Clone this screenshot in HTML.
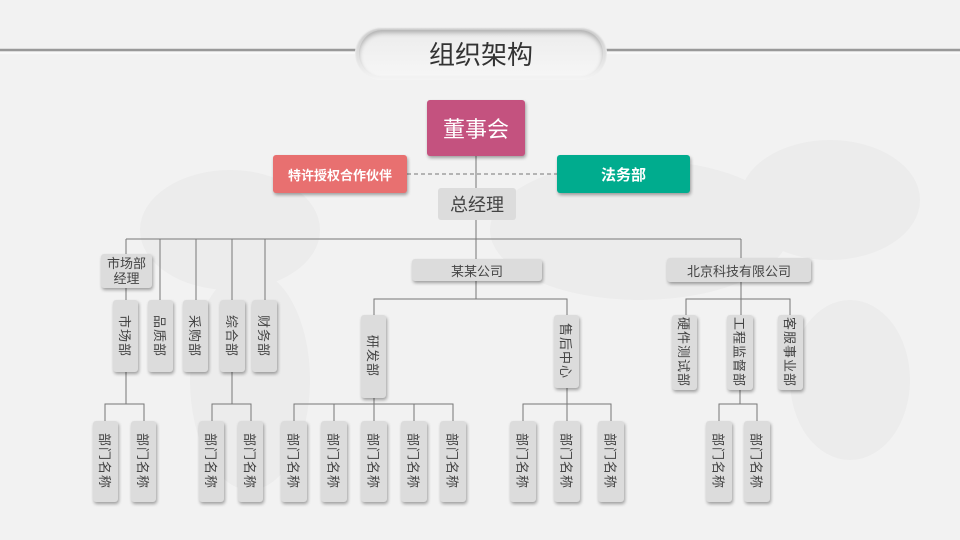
<!DOCTYPE html>
<html><head><meta charset="utf-8"><style>
*{margin:0;padding:0;box-sizing:border-box}
body{width:960px;height:540px;background:#f2f2f2;position:relative;overflow:hidden;font-family:"Liberation Sans","Noto Sans CJK SC",sans-serif;color:#333}
.b{position:absolute;background:#dcdcdc;border-radius:3px;box-shadow:1px 2px 3px rgba(0,0,0,.35);display:flex;align-items:center;justify-content:center;font-size:13px;color:#444}
.v{writing-mode:vertical-rl;text-orientation:sideways;letter-spacing:1px}
.c{position:absolute;border-radius:3px;color:#fff;display:flex;align-items:center;justify-content:center;box-shadow:1px 2px 3px rgba(0,0,0,.35)}
svg{position:absolute;left:0;top:0}
</style></head><body>
<svg width="960" height="540">
<g fill="#ececec"><ellipse cx="230" cy="230" rx="90" ry="60"/><ellipse cx="250" cy="380" rx="60" ry="110"/><ellipse cx="640" cy="230" rx="150" ry="70"/><ellipse cx="830" cy="200" rx="90" ry="60"/><ellipse cx="850" cy="380" rx="60" ry="80"/></g>
<line x1="0" y1="50" x2="358" y2="50" stroke="#999" stroke-width="2.5"/>
<line x1="604" y1="50" x2="960" y2="50" stroke="#999" stroke-width="2.5"/>
<line x1="0" y1="53" x2="358" y2="53" stroke="#fff" stroke-width="1"/>
<line x1="604" y1="53" x2="960" y2="53" stroke="#fff" stroke-width="1"/>
<line x1="407" y1="174" x2="557" y2="174" stroke="#777" stroke-dasharray="4,3"/>
<g stroke="#777" stroke-width="1" fill="none">
<path d="M476 156V259M126 239H741M126 239V254M160 239V300M196 239V300M232 239V300M265 239V300M741 239V259"/>
<path d="M126 288V300M126 372V404M105 421V404H144V421"/>
<path d="M232 372V404M212 421V404H251V421"/>
<path d="M476 281V299M374 315V299H567V315M374 398V404M294 421V404H453V421M334 404V421M374 404V421M414 404V421"/>
<path d="M567 388V404M523 421V404H611V421M567 404V421"/>
<path d="M741 282V299M686 315V299H790V315M741 299V315M740 390V404M719 421V404H757V421"/>
</g>
</svg>
<div style="position:absolute;left:355px;top:27px;width:252px;height:53px;border-radius:27px;background:linear-gradient(#c8c8c8,#f4f4f4);box-shadow:0 1px 2px #fff inset"></div>
<div style="position:absolute;left:359px;top:30px;width:244px;height:47px;border-radius:24px;background:linear-gradient(#ececec,#f6f6f6);box-shadow:inset 0 3px 5px rgba(0,0,0,.25);display:flex;align-items:center;justify-content:center;font-size:26px;color:#333">组织架构</div>
<div class="c" style="left:427px;top:100px;width:98px;height:56px;background:#c4527f;font-size:22px">董事会</div>
<div class="c" style="left:273px;top:155px;width:134px;height:38px;background:#e87070;font-size:13px;font-weight:bold">特许授权合作伙伴</div>
<div class="c" style="left:557px;top:155px;width:133px;height:38px;background:#00ac8e;font-size:15px;font-weight:bold">法务部</div>
<div class="b" style="left:438px;top:188px;width:78px;height:32px;font-size:18px;box-shadow:none">总经理</div>
<div class="b" style="left:101px;top:254px;width:51px;height:34px;line-height:15px;text-align:center">市场部<br>经理</div>
<div class="b" style="left:412px;top:259px;width:130px;height:22px">某某公司</div>
<div class="b" style="left:667px;top:258px;width:144px;height:24px">北京科技有限公司</div>
<div class="b v" style="left:113px;top:300px;width:25px;height:72px">市场部</div>
<div class="b v" style="left:148px;top:300px;width:25px;height:72px">品质部</div>
<div class="b v" style="left:183px;top:300px;width:25px;height:72px">采购部</div>
<div class="b v" style="left:220px;top:300px;width:25px;height:72px">综合部</div>
<div class="b v" style="left:252px;top:300px;width:25px;height:72px">财务部</div>
<div class="b v" style="left:361px;top:315px;width:25px;height:83px">研发部</div>
<div class="b v" style="left:554px;top:315px;width:25px;height:73px">售后中心</div>
<div class="b v" style="left:672px;top:315px;width:25px;height:75px">硬件测试部</div>
<div class="b v" style="left:727px;top:315px;width:26px;height:75px">工程监督部</div>
<div class="b v" style="left:778px;top:315px;width:25px;height:75px">客服事业部</div>
<div class="b v" style="left:93px;top:421px;width:25px;height:81px">部门名称</div>
<div class="b v" style="left:131px;top:421px;width:25px;height:81px">部门名称</div>
<div class="b v" style="left:199px;top:421px;width:25px;height:81px">部门名称</div>
<div class="b v" style="left:238px;top:421px;width:25px;height:81px">部门名称</div>
<div class="b v" style="left:281px;top:421px;width:26px;height:81px">部门名称</div>
<div class="b v" style="left:321px;top:421px;width:26px;height:81px">部门名称</div>
<div class="b v" style="left:361px;top:421px;width:26px;height:81px">部门名称</div>
<div class="b v" style="left:401px;top:421px;width:26px;height:81px">部门名称</div>
<div class="b v" style="left:440px;top:421px;width:26px;height:81px">部门名称</div>
<div class="b v" style="left:510px;top:421px;width:26px;height:81px">部门名称</div>
<div class="b v" style="left:554px;top:421px;width:26px;height:81px">部门名称</div>
<div class="b v" style="left:598px;top:421px;width:26px;height:81px">部门名称</div>
<div class="b v" style="left:706px;top:421px;width:26px;height:81px">部门名称</div>
<div class="b v" style="left:744px;top:421px;width:26px;height:81px">部门名称</div>
</body></html>
